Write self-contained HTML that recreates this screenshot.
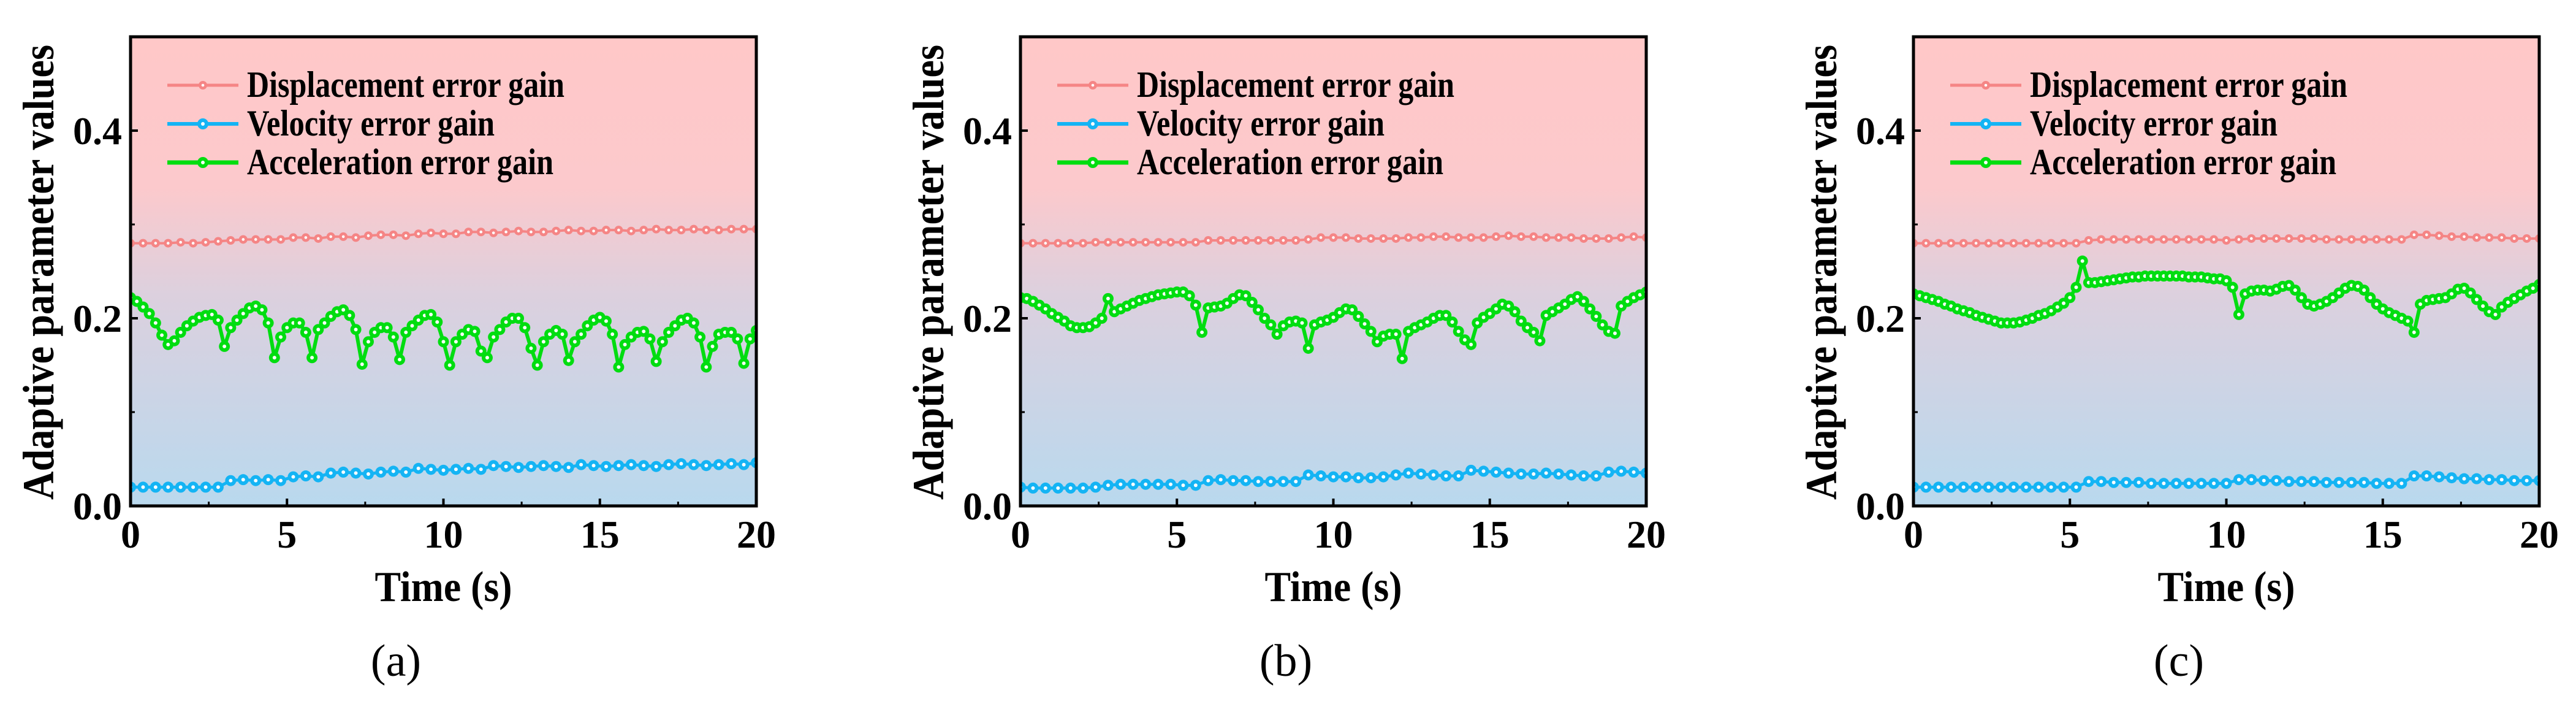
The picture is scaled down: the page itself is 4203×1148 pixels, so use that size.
<!DOCTYPE html>
<html><head><meta charset="utf-8"><style>
html,body{margin:0;padding:0;background:#fff;width:4203px;height:1148px;overflow:hidden}
svg text{font-family:"Liberation Serif","DejaVu Serif",serif}
</style></head><body>
<svg id="fig" width="4203" height="1148" viewBox="0 0 4203 1148" xmlns="http://www.w3.org/2000/svg" font-family="Liberation Serif, DejaVu Serif, serif">
<defs>
<linearGradient id="bg" x1="0" y1="0" x2="0" y2="1">
<stop offset="0" stop-color="#ffc8c8"/><stop offset="0.32" stop-color="#fcc9cc"/>
<stop offset="0.55" stop-color="#dcd0de"/><stop offset="1" stop-color="#b9d9ee"/>
</linearGradient>
</defs>
</svg>
<script>
const timeMax = 20;
const yMax = 0.5;
const xTicks = [0,5,10,15,20];
const xTickLabels = ["0","5","10","15","20"];
const yTicks = [0,0.2,0.4];
const yTickLabels = ["0.0","0.2","0.4"];
const panelLabels = ["(a)","(b)","(c)"];
const legendNames = ["Displacement error gain","Velocity error gain","Acceleration error gain"];

const dispA = [.280,.280,.280,.280,.281,.280,.281,.282,.283,.284,.284,.284,.284,.286,.286,.285,.287,.287,.286,.288,.289,.289,.288,.290,.291,.290,.290,.292,.292,.291,.292,.293,.292,.292,.293,.294,.293,.293,.294,.294,.293,.294,.295,.294,.294,.295,.294,.294,.295,.295,.295];
const velA = [.020,.020,.020,.020,.020,.020,.020,.020,.027,.028,.027,.028,.027,.031,.032,.031,.035,.036,.035,.034,.036,.037,.036,.040,.039,.038,.039,.040,.039,.043,.042,.041,.042,.043,.042,.041,.044,.043,.042,.043,.044,.043,.042,.044,.045,.044,.043,.044,.045,.044,.046];
const accA = [.222,.218,.212,.205,.195,.182,.172,.176,.185,.192,.197,.201,.203,.204,.198,.170,.190,.198,.205,.211,.213,.209,.195,.158,.180,.190,.195,.195,.185,.158,.188,.195,.202,.207,.209,.203,.188,.151,.175,.185,.190,.190,.180,.156,.185,.192,.198,.203,.204,.196,.175,.150,.175,.183,.188,.186,.165,.158,.180,.188,.196,.200,.200,.190,.168,.150,.175,.183,.187,.183,.155,.175,.183,.192,.198,.201,.197,.183,.148,.172,.180,.185,.186,.178,.154,.175,.185,.192,.198,.200,.195,.180,.148,.170,.183,.185,.185,.178,.152,.178,.187];

const dispB = [.280,.280,.280,.280,.280,.280,.281,.281,.281,.281,.281,.281,.281,.281,.281,.283,.283,.283,.283,.283,.283,.283,.283,.284,.286,.286,.286,.285,.285,.285,.285,.286,.286,.287,.287,.286,.286,.286,.287,.288,.287,.287,.286,.286,.286,.285,.285,.285,.286,.287,.286];
const velB = [.020,.019,.019,.019,.019,.019,.020,.022,.023,.023,.023,.023,.023,.022,.022,.027,.028,.027,.027,.026,.026,.026,.026,.033,.032,.031,.031,.030,.030,.031,.033,.035,.034,.033,.032,.032,.038,.037,.036,.035,.034,.034,.035,.034,.033,.032,.032,.036,.037,.036,.035];
const accB = [.222,.221,.218,.214,.210,.205,.201,.197,.192,.190,.190,.191,.195,.200,.221,.207,.210,.213,.216,.219,.221,.223,.225,.226,.227,.228,.228,.224,.214,.185,.211,.212,.213,.216,.221,.225,.224,.217,.209,.200,.193,.183,.192,.196,.197,.195,.168,.193,.196,.198,.201,.206,.210,.209,.202,.194,.186,.175,.181,.183,.183,.157,.186,.190,.193,.196,.200,.203,.203,.196,.186,.177,.172,.195,.201,.205,.210,.215,.213,.207,.197,.190,.185,.176,.203,.207,.211,.215,.220,.223,.218,.210,.202,.193,.186,.184,.213,.218,.222,.225,.228];

const dispC = [.280,.280,.280,.280,.280,.280,.280,.280,.280,.280,.280,.280,.280,.280,.283,.284,.284,.284,.284,.284,.284,.284,.284,.284,.284,.283,.284,.285,.285,.285,.285,.285,.285,.284,.284,.284,.284,.284,.284,.284,.289,.289,.288,.287,.287,.286,.286,.286,.285,.285,.285];
const velC = [.020,.020,.020,.020,.020,.020,.020,.020,.020,.020,.020,.020,.020,.020,.026,.026,.025,.025,.025,.024,.024,.024,.024,.024,.024,.024,.028,.028,.027,.027,.026,.026,.026,.025,.025,.025,.025,.024,.024,.024,.032,.032,.031,.030,.029,.029,.028,.028,.027,.027,.027];
const accC = [.226,.224,.222,.220,.218,.215,.213,.210,.208,.206,.203,.201,.199,.197,.195,.195,.195,.196,.198,.200,.203,.205,.208,.212,.216,.222,.233,.261,.238,.238,.239,.240,.241,.242,.243,.244,.244,.245,.245,.245,.245,.245,.245,.245,.244,.244,.244,.243,.242,.242,.240,.233,.204,.226,.229,.230,.230,.229,.231,.234,.235,.230,.222,.215,.213,.215,.218,.222,.227,.232,.235,.234,.230,.222,.215,.210,.206,.203,.200,.197,.185,.215,.219,.220,.221,.222,.226,.231,.232,.227,.220,.213,.207,.204,.212,.217,.221,.225,.229,.232,.236];

const panels = [
  {left:213, disp:dispA, vel:velA, acc:accA},
  {left:1665, disp:dispB, vel:velB, acc:accB},
  {left:3122, disp:dispC, vel:velC, acc:accC}
];
const TOP=60, BOT=825, W=1021;
const FONT='Liberation Serif, DejaVu Serif, serif';
const NS="http://www.w3.org/2000/svg";
const svg=document.getElementById('fig');
function mk(tag,attrs,parent){const e=document.createElementNS(NS,tag);for(const k in attrs)e.setAttribute(k,attrs[k]);if(tag==='text')e.setAttribute('font-family',FONT);(parent||svg).appendChild(e);return e;}

panels.forEach((p,pi)=>{
  const L=p.left;
  const xs=t=>L+t/timeMax*W;
  const ys=v=>BOT-v/yMax*(BOT-TOP);
  const g=mk('g',{});
  
  
  const clip=mk('clipPath',{id:'clip'+pi},g);
  mk('rect',{x:L,y:TOP,width:W,height:BOT-TOP},clip);
  const bg=mk('rect',{x:L,y:TOP,width:W,height:BOT-TOP,fill:'url(#bg)'},g);
  
  
  const series=[
    {d:p.disp,c:'#f58585',lw:4,r:7,name:'displacement-series'},
    {d:p.vel,c:'#14b4f4',lw:5,r:9,name:'velocity-series'},
    {d:p.acc,c:'#00dd10',lw:6,r:9,name:'acceleration-series'}
  ];
  const sg=mk('g',{'clip-path':'url(#clip'+pi+')'},g);
  series.forEach(s=>{
    const n=s.d.length;
    const pts=s.d.map((v,i)=>[xs(i*timeMax/(n-1)),ys(v)]);
    const pl=mk('polyline',{points:pts.map(q=>q.join(',')).join(' '),fill:'none',stroke:s.c,'stroke-width':s.lw,'stroke-linejoin':'round'},sg);
    
    
    pts.forEach(q=>{
      const c=mk('circle',{cx:q[0],cy:q[1],r:s.r,fill:s.c},sg);
      
      
      mk('circle',{cx:q[0],cy:q[1],r:s.r*0.33,fill:'#fff'},sg);
    });
  });
  xTicks.forEach((t,i)=>{
    mk('line',{x1:xs(t),x2:xs(t),y1:BOT,y2:BOT-12,stroke:'#000','stroke-width':4},g);
    if(i<xTicks.length-1) mk('line',{x1:xs(t+2.5),x2:xs(t+2.5),y1:BOT,y2:BOT-7,stroke:'#000','stroke-width':3},g);
    const tx=mk('text',{x:xs(t),y:893,'font-size':64,'font-weight':'bold','text-anchor':'middle'},g);
    tx.textContent=xTickLabels[i];
    
    
  });
  yTicks.forEach((v,i)=>{
    mk('line',{x1:L,x2:L+12,y1:ys(v),y2:ys(v),stroke:'#000','stroke-width':4},g);
    mk('line',{x1:L,x2:L+7,y1:ys(v+0.1),y2:ys(v+0.1),stroke:'#000','stroke-width':3},g);
    const ty=mk('text',{x:L-14,y:ys(v)+22,'font-size':64,'font-weight':'bold','text-anchor':'end'},g);
    ty.textContent=yTickLabels[i];
    
    
  });
  const fr=mk('rect',{x:L,y:TOP,width:W,height:BOT-TOP,fill:'none',stroke:'#000','stroke-width':5},g);
  
  
  const lens=[518,404,500];
  series.forEach((s,i)=>{
    const y=139+i*63;
    const lg=mk('g',{},g);
    
    
    mk('line',{x1:L+60,x2:L+176,y1:y,y2:y,stroke:s.c,'stroke-width':s.lw+1},lg);
    mk('circle',{cx:L+118,cy:y,r:s.r,fill:s.c},lg);
    mk('circle',{cx:L+118,cy:y,r:s.r*0.33,fill:'#fff'},lg);
    const t=mk('text',{x:L+190,y:y+19,'font-size':60,'font-weight':'bold',textLength:lens[i],lengthAdjust:'spacingAndGlyphs'},lg);
    t.textContent=legendNames[i];
  });
  const yt=mk('text',{x:0,y:0,'font-size':72,'font-weight':'bold','text-anchor':'middle','dominant-baseline':'central',transform:'translate('+(L-150)+',444) rotate(-90)',textLength:742,lengthAdjust:'spacingAndGlyphs'},g);
  yt.textContent='Adaptive parameter values';
  
  
  const xt=mk('text',{x:L+W/2,y:980,'font-size':70,'font-weight':'bold','text-anchor':'middle',textLength:224,lengthAdjust:'spacingAndGlyphs'},g);
  xt.textContent='Time (s)';
  
  
  const pl=mk('text',{x:L+433,y:1102,'font-size':74,'text-anchor':'middle'},g);
  pl.textContent=panelLabels[pi];
  
  
});
</script>
</body></html>
